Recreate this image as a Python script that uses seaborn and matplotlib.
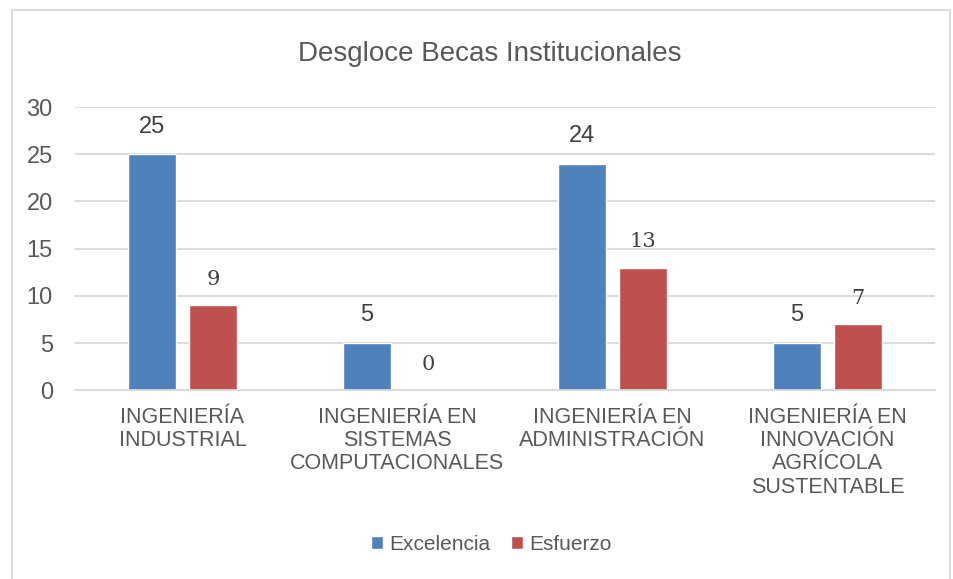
import pandas as pd
import seaborn as sns
import matplotlib.pyplot as plt
from matplotlib.patches import Rectangle

# Data
carreras = ['INGENIERÍA\nINDUSTRIAL',
            'INGENIERÍA EN\nSISTEMAS\nCOMPUTACIONALES',
            'INGENIERÍA EN\nADMINISTRACIÓN',
            'INGENIERÍA EN\nINNOVACIÓN\nAGRÍCOLA\nSUSTENTABLE']
excelencia = [25, 5, 24, 5]
esfuerzo = [9, 0, 13, 7]
series = ['Excelencia', 'Esfuerzo']
colores = ['#4F81BD', '#C0504D']

df = pd.DataFrame({
    'carrera': carreras * 2,
    'beca': [series[0]] * 4 + [series[1]] * 4,
    'total': excelencia + esfuerzo,
})

sns.set_style('white')
plt.rcParams['font.family'] = ['Liberation Sans', 'DejaVu Sans']
gris = '#595959'

fig = plt.figure(figsize=(9.54, 5.79), dpi=100)
ax = fig.add_axes([0.0786, 0.326, 0.9014, 0.489])

sns.barplot(data=df, x='carrera', y='total', hue='beca', palette=colores,
            width=0.57, gap=0.22, saturation=1, ax=ax, legend=True)

# data labels (the red series uses a serif face in the original)
fuentes = ['Liberation Sans', 'DejaVu Serif']
tamanos = [17, 15]
for cont, fam, sz in zip(ax.containers, fuentes, tamanos):
    ax.bar_label(cont, padding=12, fontsize=sz, family=fam, color='#404040')

ax.set_ylim(0, 30)
ax.set_yticks(range(0, 31, 5))
ax.yaxis.grid(True, color='#D9D9D9', linewidth=1.3)
ax.set_axisbelow(True)
for s in ['top', 'right', 'left']:
    ax.spines[s].set_visible(False)
ax.spines['bottom'].set_color('#D9D9D9')
ax.spines['bottom'].set_linewidth(1.3)
ax.tick_params(axis='y', length=0, labelsize=17, labelcolor=gris, pad=16)
ax.tick_params(axis='x', length=0, labelsize=15.5, labelcolor=gris, pad=12)
for t in ax.get_xticklabels():
    t.set_linespacing(1.14)
ax.set_xlabel('')
ax.set_ylabel('')

fig.text(0.513, 0.906, 'Desgloce Becas Institucionales', ha='center', va='center',
         fontsize=20, color=gris)

handles, labels = ax.get_legend_handles_labels()
ax.get_legend().remove()
fig.legend(handles, labels, loc='center', bbox_to_anchor=(0.515, 0.06), ncol=2,
           frameon=False, fontsize=15, labelcolor=gris, handlelength=0.55,
           handleheight=0.55, handletextpad=0.3, columnspacing=1.0)

# chart border
fig.patches.append(Rectangle((0.0126, -0.02), 0.983, 1.003, transform=fig.transFigure,
                             fill=False, edgecolor='#D9D9D9', linewidth=1.3))

fig.savefig('out.png', dpi=100)
